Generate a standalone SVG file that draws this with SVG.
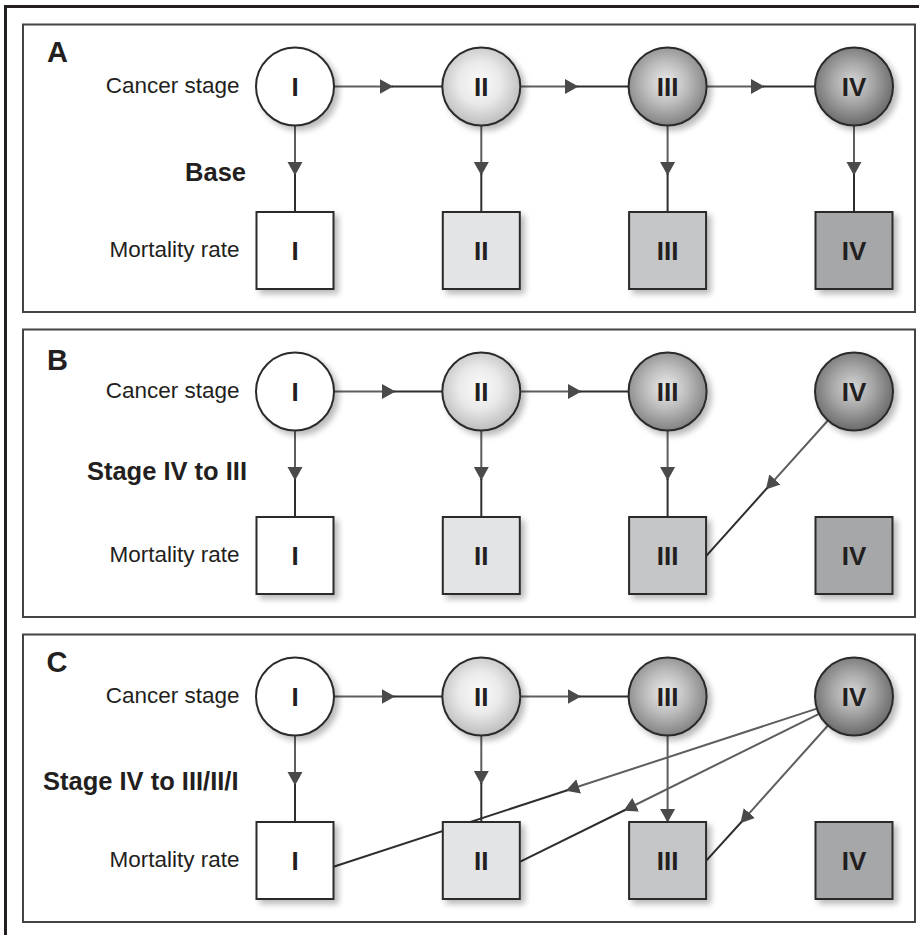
<svg xmlns="http://www.w3.org/2000/svg" width="919" height="935" viewBox="0 0 919 935">
<defs>
<style>
.frame{fill:none;stroke:#231f20;stroke-width:3}
.panel{fill:#fff;stroke:#444;stroke-width:2}
.lbl{font-family:"Liberation Sans",Arial,sans-serif;font-size:22.5px;fill:#231f20;text-anchor:end}
.blbl{font-family:"Liberation Sans",Arial,sans-serif;font-size:25.5px;font-weight:bold;fill:#231f20;text-anchor:end}
.plbl{font-family:"Liberation Sans",Arial,sans-serif;font-size:29px;font-weight:bold;fill:#231f20}
.ntx{font-family:"Liberation Sans",Arial,sans-serif;font-size:26px;font-weight:bold;fill:#231f20;text-anchor:middle}
.nd{stroke:#2a2a2a;stroke-width:2;filter:url(#sh)}
.c1{stroke:#5e5e5e;stroke-width:2;fill:none}
.c2{stroke:#2e2e2e;stroke-width:2;fill:none}
.a1{stroke:#5e5e5e;stroke-width:2;fill:none;marker-end:url(#ah)}
</style>
<marker id="ah" markerUnits="userSpaceOnUse" viewBox="0 0 14 16" refX="13" refY="8" markerWidth="14" markerHeight="16" orient="auto">
<path d="M0,0.5 L13.5,8 L0,15.5 Z" fill="#4a4a4a"/>
</marker>
<filter id="sh" x="-20%" y="-20%" width="150%" height="150%">
<feGaussianBlur in="SourceAlpha" stdDeviation="3"/>
<feOffset dx="4" dy="4" result="o"/>
<feComponentTransfer><feFuncA type="linear" slope="0.28"/></feComponentTransfer>
<feMerge><feMergeNode/><feMergeNode in="SourceGraphic"/></feMerge>
</filter>
<radialGradient id="g1" cx="50%" cy="45%" r="55%"><stop offset="0" stop-color="#ffffff"/><stop offset="1" stop-color="#ffffff"/></radialGradient>
<radialGradient id="g2" cx="48%" cy="45%" r="55%"><stop offset="0" stop-color="#fbfbfb"/><stop offset="0.5" stop-color="#e9e9e9"/><stop offset="1" stop-color="#bdbdbd"/></radialGradient>
<radialGradient id="g3" cx="48%" cy="45%" r="55%"><stop offset="0" stop-color="#ebebeb"/><stop offset="0.5" stop-color="#bcbcbc"/><stop offset="1" stop-color="#838383"/></radialGradient>
<radialGradient id="g4" cx="48%" cy="45%" r="55%"><stop offset="0" stop-color="#d6d6d6"/><stop offset="0.5" stop-color="#a4a4a4"/><stop offset="1" stop-color="#6a6a6a"/></radialGradient>
</defs>
<rect width="919" height="935" fill="#fff"/>
<path class="frame" d="M5.5,935 V6.5 H919"/>

<!-- ===== Panel A ===== -->
<rect class="panel" x="23" y="24.5" width="892" height="287.5"/>
<text class="plbl" x="47" y="62">A</text>
<text class="lbl" x="239.5" y="93">Cancer stage</text>
<text class="lbl" x="239.5" y="257">Mortality rate</text>
<text class="blbl" x="246" y="181">Base</text>
<g id="connectorsA">
<path class="a1" d="M334,86.5 H392.7"/><path class="c2" d="M392,86.5 H442.3"/>
<path class="a1" d="M520.3,86.5 H578"/><path class="c2" d="M577,86.5 H628.6"/>
<path class="a1" d="M706.6,86.5 H764"/><path class="c2" d="M763,86.5 H815"/>
<path class="a1" d="M295,125.5 V175"/><path class="c2" d="M295,174 V212"/>
<path class="a1" d="M481.3,125.5 V175"/><path class="c2" d="M481.3,174 V212"/>
<path class="a1" d="M667.6,125.5 V175"/><path class="c2" d="M667.6,174 V212"/>
<path class="a1" d="M854,125.5 V175"/><path class="c2" d="M854,174 V212"/>
</g>
<g id="A-stage-I"><circle class="nd" cx="295" cy="86.5" r="39" fill="url(#g1)"/><text class="ntx" x="295" y="96">I</text></g>
<g id="A-stage-II"><circle class="nd" cx="481.3" cy="86.5" r="39" fill="url(#g2)"/><text class="ntx" x="481.3" y="96">II</text></g>
<g id="A-stage-III"><circle class="nd" cx="667.6" cy="86.5" r="39" fill="url(#g3)"/><text class="ntx" x="667.6" y="96">III</text></g>
<g id="A-stage-IV"><circle class="nd" cx="854" cy="86.5" r="39" fill="url(#g4)"/><text class="ntx" x="854" y="96">IV</text></g>
<g id="A-mort-I"><rect class="nd" x="256.5" y="212" width="77" height="77" fill="#ffffff"/><text class="ntx" x="295" y="260">I</text></g>
<g id="A-mort-II"><rect class="nd" x="442.8" y="212" width="77" height="77" fill="#e3e4e6"/><text class="ntx" x="481.3" y="260">II</text></g>
<g id="A-mort-III"><rect class="nd" x="629.1" y="212" width="77" height="77" fill="#c5c6c8"/><text class="ntx" x="667.6" y="260">III</text></g>
<g id="A-mort-IV"><rect class="nd" x="815.5" y="212" width="77" height="77" fill="#a6a7a9"/><text class="ntx" x="854" y="260">IV</text></g>

<!-- ===== Panel B ===== -->
<rect class="panel" x="23" y="329.5" width="892" height="287.5"/>
<text class="plbl" x="47" y="370">B</text>
<text class="lbl" x="239.5" y="398">Cancer stage</text>
<text class="lbl" x="239.5" y="562">Mortality rate</text>
<text class="blbl" x="247" y="480">Stage IV to III</text>
<g id="connectorsB">
<path class="a1" d="M334,391.5 H395"/><path class="c2" d="M394,391.5 H442.3"/>
<path class="a1" d="M520.3,391.5 H581"/><path class="c2" d="M580,391.5 H628.6"/>
<path class="a1" d="M295,430.5 V480"/><path class="c2" d="M295,479 V517"/>
<path class="a1" d="M481.3,430.5 V480"/><path class="c2" d="M481.3,479 V517"/>
<path class="a1" d="M667.6,430.5 V480"/><path class="c2" d="M667.6,479 V517"/>
<path class="a1" d="M827.9,420.5 L766.2,489.1"/><path class="c2" d="M767,488.2 L706.3,555.8"/>
</g>
<g id="B-stage-I"><circle class="nd" cx="295" cy="391.5" r="39" fill="url(#g1)"/><text class="ntx" x="295" y="401">I</text></g>
<g id="B-stage-II"><circle class="nd" cx="481.3" cy="391.5" r="39" fill="url(#g2)"/><text class="ntx" x="481.3" y="401">II</text></g>
<g id="B-stage-III"><circle class="nd" cx="667.6" cy="391.5" r="39" fill="url(#g3)"/><text class="ntx" x="667.6" y="401">III</text></g>
<g id="B-stage-IV"><circle class="nd" cx="854" cy="391.5" r="39" fill="url(#g4)"/><text class="ntx" x="854" y="401">IV</text></g>
<g id="B-mort-I"><rect class="nd" x="256.5" y="517" width="77" height="77" fill="#ffffff"/><text class="ntx" x="295" y="565">I</text></g>
<g id="B-mort-II"><rect class="nd" x="442.8" y="517" width="77" height="77" fill="#e3e4e6"/><text class="ntx" x="481.3" y="565">II</text></g>
<g id="B-mort-III"><rect class="nd" x="629.1" y="517" width="77" height="77" fill="#c5c6c8"/><text class="ntx" x="667.6" y="565">III</text></g>
<g id="B-mort-IV"><rect class="nd" x="815.5" y="517" width="77" height="77" fill="#a6a7a9"/><text class="ntx" x="854" y="565">IV</text></g>

<!-- ===== Panel C ===== -->
<rect class="panel" x="23" y="634.5" width="892" height="287.5"/>
<text class="plbl" x="46.5" y="672">C</text>
<text class="lbl" x="239.5" y="703">Cancer stage</text>
<text class="lbl" x="239.5" y="867">Mortality rate</text>
<text class="blbl" x="238.5" y="790">Stage IV to III/II/I</text>
<g id="connectorsC">
<path class="a1" d="M334,696.5 H394.5"/><path class="c2" d="M393.5,696.5 H442.3"/>
<path class="a1" d="M520.3,696.5 H580.5"/><path class="c2" d="M579.5,696.5 H628.6"/>
<path class="a1" d="M295,735.5 V785"/><path class="c2" d="M295,784 V822"/>
<path class="a1" d="M481.3,735.5 V784"/><path class="c2" d="M481.3,783 V822"/>
<path class="a1" d="M667.6,735.5 V822"/>
<path class="a1" d="M816.9,708.6 L566.3,790.5"/><path class="c2" d="M567.3,790.2 L333.5,866.7"/>
<path class="a1" d="M819,713.8 L624,810.5"/><path class="c2" d="M625,810 L520.3,861.7"/>
<path class="a1" d="M827.9,725.5 L740.7,822.8"/><path class="c2" d="M741.4,822 L706.3,860.7"/>
</g>
<g id="C-stage-I"><circle class="nd" cx="295" cy="696.5" r="39" fill="url(#g1)"/><text class="ntx" x="295" y="706">I</text></g>
<g id="C-stage-II"><circle class="nd" cx="481.3" cy="696.5" r="39" fill="url(#g2)"/><text class="ntx" x="481.3" y="706">II</text></g>
<g id="C-stage-III"><circle class="nd" cx="667.6" cy="696.5" r="39" fill="url(#g3)"/><text class="ntx" x="667.6" y="706">III</text></g>
<g id="C-stage-IV"><circle class="nd" cx="854" cy="696.5" r="39" fill="url(#g4)"/><text class="ntx" x="854" y="706">IV</text></g>
<g id="C-mort-I"><rect class="nd" x="256.5" y="822" width="77" height="77" fill="#ffffff"/><text class="ntx" x="295" y="870">I</text></g>
<g id="C-mort-II"><rect class="nd" x="442.8" y="822" width="77" height="77" fill="#e3e4e6"/><text class="ntx" x="481.3" y="870">II</text></g>
<g id="C-mort-III"><rect class="nd" x="629.1" y="822" width="77" height="77" fill="#c5c6c8"/><text class="ntx" x="667.6" y="870">III</text></g>
<g id="C-mort-IV"><rect class="nd" x="815.5" y="822" width="77" height="77" fill="#a6a7a9"/><text class="ntx" x="854" y="870">IV</text></g>
</svg>
